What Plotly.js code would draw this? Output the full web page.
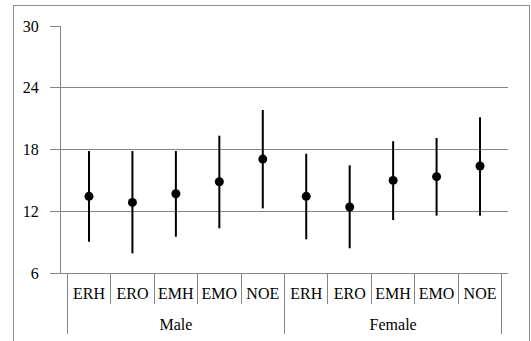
<!DOCTYPE html>
<html><head><meta charset="utf-8">
<script src="https://cdn.plot.ly/plotly-3.0.1.min.js"></script>
<style>
html,body{margin:0;padding:0;background:#fff;}
#wrap{position:relative;width:531px;height:341px;overflow:hidden;}
#chart{position:absolute;left:0;top:0;width:531px;height:341px;}
#frame{position:absolute;left:13px;top:5px;width:515px;height:350px;border:1px solid #8c8c8c;pointer-events:none;}
</style></head>
<body>
<div id="wrap"><div id="chart"></div><div id="frame"></div></div>
<script>
const groups = ["Male","Male","Male","Male","Male","Female","Female","Female","Female","Female"];
const measures = ["ERH","ERO","EMH","EMO","NOE","ERH","ERO","EMH","EMO","NOE"];
const means = [13.45, 12.86, 13.7, 14.87, 17.07, 13.45, 12.41, 15.0, 15.36, 16.4];
const upper = [17.85, 17.85, 17.85, 19.34, 21.84, 17.59, 16.46, 18.8, 19.12, 21.13];
const lower = [9.04, 7.91, 9.53, 10.34, 12.28, 9.27, 8.4, 11.15, 11.57, 11.57];
const yTicks = [6, 12, 18, 24, 30];

const errPlus = upper.map((u,i)=>u-means[i]);
const errMinus = means.map((m,i)=>m-lower[i]);
// a tiny blank second line gives the lower label row the extra spacing of the reference
const measureLabels = measures.map(m => m + "<br><span style='font-size:1px'>\u00a0</span>");
const gray = "#868686";
const font = {family:"Liberation Serif", size:16, color:"#000"};

Plotly.newPlot("chart", [{
  type:"scatter", mode:"markers",
  x:[groups, measureLabels], y:means,
  marker:{color:"#000", size:9},
  error_y:{type:"data", symmetric:false, array:errPlus, arrayminus:errMinus,
           color:"#000", thickness:2, width:0},
  hoverinfo:"skip", showlegend:false
}], {
  width:531, height:341,
  margin:{l:61, r:23, t:26, b:68},
  paper_bgcolor:"rgba(0,0,0,0)", plot_bgcolor:"rgba(0,0,0,0)",
  font:font,
  xaxis:{type:"multicategory", showgrid:false, zeroline:false,
         showline:true, linecolor:gray, linewidth:1,
         ticks:"outside", tickson:"boundaries", ticklen:30, tickcolor:gray, tickwidth:1,
         tickangle:0, ticklabelstandoff:6,
         showdividers:true, dividercolor:gray, dividerwidth:1,
         tickfont:font},
  yaxis:{range:[6,30], tickvals:yTicks, ticktext:yTicks.map(String),
         showgrid:true, gridcolor:gray, gridwidth:1, zeroline:false,
         showline:true, linecolor:gray, linewidth:1,
         ticks:"outside", ticklen:10, tickcolor:gray, tickwidth:1,
         ticklabelstandoff:8,
         tickfont:font}
}, {staticPlot:true});
</script>
</body></html>
